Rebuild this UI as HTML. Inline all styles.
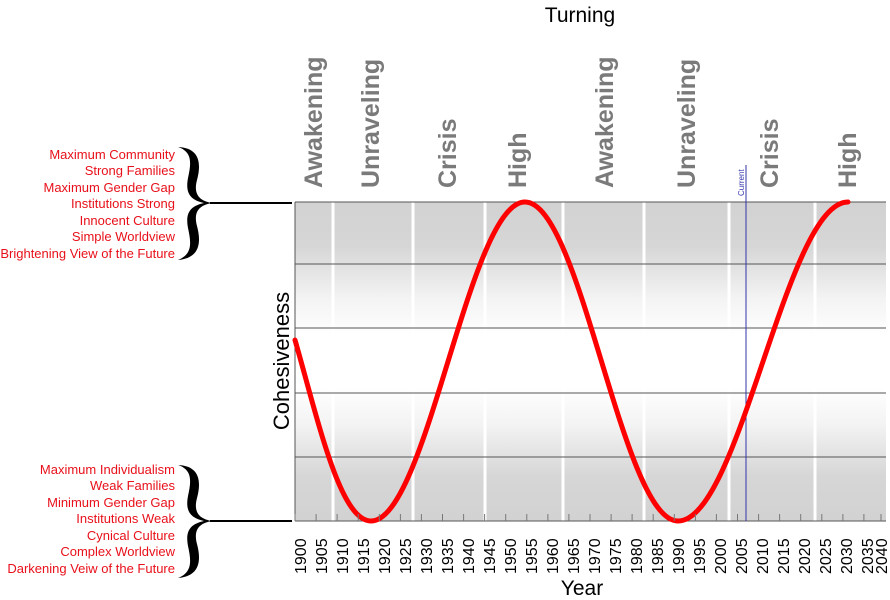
<!DOCTYPE html>
<html><head><meta charset="utf-8"><style>
body{margin:0;background:#fff}
svg{display:block}
text{font-family:"Liberation Sans",sans-serif}
</style></head><body>
<svg width="890" height="600" viewBox="0 0 890 600" xmlns="http://www.w3.org/2000/svg">
<defs>
<linearGradient id="bg" x1="0" y1="0" x2="0" y2="1">
<stop offset="0" stop-color="#d2d2d2"/>
<stop offset="0.14" stop-color="#d6d6d6"/>
<stop offset="0.3" stop-color="#f3f3f3"/>
<stop offset="0.42" stop-color="#fff"/>
<stop offset="0.58" stop-color="#fff"/>
<stop offset="0.7" stop-color="#f3f3f3"/>
<stop offset="0.86" stop-color="#d6d6d6"/>
<stop offset="1" stop-color="#d2d2d2"/>
</linearGradient>
</defs>
<rect x="295" y="202" width="591" height="319" fill="url(#bg)"/>
<g stroke="#fff" stroke-width="3">
<line x1="333" y1="202" x2="333" y2="521"/><line x1="413" y1="202" x2="413" y2="521"/>
<line x1="485" y1="202" x2="485" y2="521"/><line x1="563" y1="202" x2="563" y2="521"/>
<line x1="644" y1="202" x2="644" y2="521"/><line x1="729" y1="202" x2="729" y2="521"/>
<line x1="815" y1="202" x2="815" y2="521"/>
</g>
<g stroke="#555" stroke-width="1">
<line x1="295" y1="202" x2="886" y2="202"/><line x1="295" y1="264" x2="886" y2="264"/>
<line x1="295" y1="328" x2="886" y2="328"/><line x1="295" y1="393" x2="886" y2="393"/>
<line x1="295" y1="457" x2="886" y2="457"/><line x1="295" y1="521" x2="886" y2="521"/>
<line x1="295" y1="202" x2="295" y2="521"/>
</g>
<line x1="746" y1="165" x2="746" y2="521" stroke="#3333aa" stroke-width="1"/>
<text transform="translate(744,196) rotate(-90)" font-size="8" fill="#3333aa">Current</text>
<path d="M295,340 C318,420 340,521 371,521 C427,521 469,202 525,202 C581,202 622,521 678,521 C740,521 786,202 848,202" fill="none" stroke="#f00" stroke-width="5" stroke-linecap="round"/>
<g stroke="#000" stroke-width="2"><line x1="210" y1="203" x2="292" y2="203"/><line x1="210" y1="521" x2="292" y2="521"/></g>
<text x="580" y="22" font-size="21" text-anchor="middle">Turning</text>
<text transform="translate(289,361) rotate(-90)" font-size="22" text-anchor="middle">Cohesiveness</text>
<text x="582" y="595" font-size="21" text-anchor="middle">Year</text>
<g font-size="25" font-weight="bold" fill="#7a7a7a">
<text transform="translate(322,188) rotate(-90)">Awakening</text>
<text transform="translate(379,188) rotate(-90)">Unraveling</text>
<text transform="translate(456,188) rotate(-90)">Crisis</text>
<text transform="translate(526,188) rotate(-90)">High</text>
<text transform="translate(613,188) rotate(-90)">Awakening</text>
<text transform="translate(695,188) rotate(-90)">Unraveling</text>
<text transform="translate(778,188) rotate(-90)">Crisis</text>
<text transform="translate(856,188) rotate(-90)">High</text>
</g>
<g font-size="13" fill="#e8101a" text-anchor="end">
<text x="175" y="159">Maximum Community</text><text x="175" y="175">Strong Families</text>
<text x="175" y="192">Maximum Gender Gap</text><text x="175" y="208">Institutions Strong</text>
<text x="175" y="225">Innocent Culture</text><text x="175" y="241">Simple Worldview</text>
<text x="175" y="258">Brightening View of the Future</text>
<text x="175" y="474">Maximum Individualism</text><text x="175" y="490">Weak Families</text>
<text x="175" y="507">Minimum Gender Gap</text><text x="175" y="523">Institutions Weak</text>
<text x="175" y="540">Cynical Culture</text><text x="175" y="556">Complex Worldview</text>
<text x="175" y="573">Darkening Veiw of the Future</text>
</g>
<g fill="#000">
<path d="M178,147 C201,148 201,165 197,180 C193,195 200,201 212,203 C200,205 193,211 197,226 C201,241 201,258 178,260 C193,254 191,242 188,228 C185,212 191,206 204,203 C191,200 185,194 188,178 C191,164 193,152 178,147Z"/>
<path d="M178,465 C201,466 201,483 197,498 C193,513 200,519 212,521 C200,523 193,529 197,544 C201,559 201,576 178,578 C193,572 191,560 188,546 C185,530 191,524 204,521 C191,518 185,512 188,496 C191,482 193,470 178,465Z"/>
</g>
<g stroke="#777">
<line x1="295.0" y1="514" x2="295.0" y2="521"/><line x1="316.1" y1="514" x2="316.1" y2="521"/><line x1="337.1" y1="514" x2="337.1" y2="521"/><line x1="358.2" y1="514" x2="358.2" y2="521"/><line x1="379.3" y1="514" x2="379.3" y2="521"/><line x1="400.4" y1="514" x2="400.4" y2="521"/><line x1="421.4" y1="514" x2="421.4" y2="521"/><line x1="442.5" y1="514" x2="442.5" y2="521"/><line x1="463.6" y1="514" x2="463.6" y2="521"/><line x1="484.6" y1="514" x2="484.6" y2="521"/><line x1="505.7" y1="514" x2="505.7" y2="521"/><line x1="526.8" y1="514" x2="526.8" y2="521"/><line x1="547.9" y1="514" x2="547.9" y2="521"/><line x1="568.9" y1="514" x2="568.9" y2="521"/><line x1="590.0" y1="514" x2="590.0" y2="521"/><line x1="611.1" y1="514" x2="611.1" y2="521"/><line x1="632.1" y1="514" x2="632.1" y2="521"/><line x1="653.2" y1="514" x2="653.2" y2="521"/><line x1="674.3" y1="514" x2="674.3" y2="521"/><line x1="695.4" y1="514" x2="695.4" y2="521"/><line x1="716.4" y1="514" x2="716.4" y2="521"/><line x1="737.5" y1="514" x2="737.5" y2="521"/><line x1="758.6" y1="514" x2="758.6" y2="521"/><line x1="779.6" y1="514" x2="779.6" y2="521"/><line x1="800.7" y1="514" x2="800.7" y2="521"/><line x1="821.8" y1="514" x2="821.8" y2="521"/><line x1="842.9" y1="514" x2="842.9" y2="521"/><line x1="863.9" y1="514" x2="863.9" y2="521"/><line x1="881.0" y1="514" x2="881.0" y2="521"/>
</g>
<g font-size="16" fill="#000">
<text transform="translate(306,574) rotate(-90)">1900</text><text transform="translate(327,574) rotate(-90)">1905</text><text transform="translate(348,574) rotate(-90)">1910</text><text transform="translate(369,574) rotate(-90)">1915</text><text transform="translate(390,574) rotate(-90)">1920</text><text transform="translate(411,574) rotate(-90)">1925</text><text transform="translate(432,574) rotate(-90)">1930</text><text transform="translate(453,574) rotate(-90)">1935</text><text transform="translate(474,574) rotate(-90)">1940</text><text transform="translate(495,574) rotate(-90)">1945</text><text transform="translate(516,574) rotate(-90)">1950</text><text transform="translate(537,574) rotate(-90)">1955</text><text transform="translate(558,574) rotate(-90)">1960</text><text transform="translate(579,574) rotate(-90)">1965</text><text transform="translate(600,574) rotate(-90)">1970</text><text transform="translate(621,574) rotate(-90)">1975</text><text transform="translate(642,574) rotate(-90)">1980</text><text transform="translate(663,574) rotate(-90)">1985</text><text transform="translate(684,574) rotate(-90)">1990</text><text transform="translate(705,574) rotate(-90)">1995</text><text transform="translate(726,574) rotate(-90)">2000</text><text transform="translate(747,574) rotate(-90)">2005</text><text transform="translate(768,574) rotate(-90)">2010</text><text transform="translate(789,574) rotate(-90)">2015</text><text transform="translate(810,574) rotate(-90)">2020</text><text transform="translate(831,574) rotate(-90)">2025</text><text transform="translate(852,574) rotate(-90)">2030</text><text transform="translate(873,574) rotate(-90)">2035</text><text transform="translate(887,574) rotate(-90)">2040</text>
</g>
</svg>
</body></html>
